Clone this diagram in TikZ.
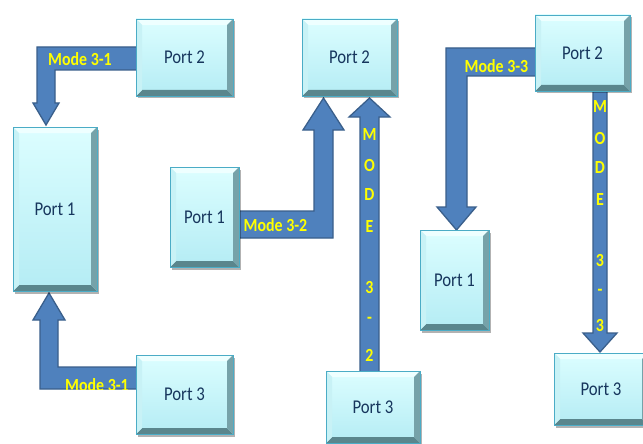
\documentclass[tikz,border=0pt]{standalone}
\usepackage{fontspec}
\setmainfont{Carlito}[FakeStretch=0.86]
\usetikzlibrary{shadows,calc}
\definecolor{arrfill}{HTML}{4F81BD}
\definecolor{arrline}{HTML}{3A5F8B}
\definecolor{boxline}{HTML}{4BACC6}
\definecolor{facetop}{HTML}{DCFEFF}
\definecolor{facebot}{HTML}{B4ECF4}
\definecolor{bevtop}{HTML}{EEFFFF}
\definecolor{bevleft}{HTML}{C8F2F6}
\definecolor{bevright}{HTML}{76A2A9}
\definecolor{bevbot}{HTML}{5A868D}
\definecolor{porttext}{HTML}{17365D}
\definecolor{modeyellow}{HTML}{FFFF00}
\tikzset{
  portbox/.style={draw=boxline, line width=0.8pt, top color=facetop, bottom color=facebot,
    text=porttext, font=\fontsize{19.5}{21}\selectfont, inner sep=0pt,
    drop shadow={shadow xshift=1.5pt, shadow yshift=-2.5pt, opacity=0.3, fill=black},
    path picture={
      \fill[bevtop] let \p1=(path picture bounding box.north west), \p2=(path picture bounding box.south east) in
        (\x1,\y1) -- (\x2,\y1) -- (\x2-6pt,\y1-6pt) -- (\x1+6pt,\y1-6pt) -- cycle;
      \fill[bevbot] let \p1=(path picture bounding box.north west), \p2=(path picture bounding box.south east) in
        (\x1,\y2) -- (\x2,\y2) -- (\x2-6pt,\y2+6pt) -- (\x1+6pt,\y2+6pt) -- cycle;
      \fill[bevleft] let \p1=(path picture bounding box.north west), \p2=(path picture bounding box.south east) in
        (\x1,\y1) -- (\x1+6pt,\y1-6pt) -- (\x1+6pt,\y2+6pt) -- (\x1,\y2) -- cycle;
      \fill[bevright] let \p1=(path picture bounding box.north west), \p2=(path picture bounding box.south east) in
        (\x2,\y1) -- (\x2-6pt,\y1-6pt) -- (\x2-6pt,\y2+6pt) -- (\x2,\y2) -- cycle;
    }},
  fatarrow/.style={fill=arrfill, draw=arrline, line width=1.3pt, line join=miter},
  modelabel/.style={text=modeyellow, font=\bfseries\fontsize{18.5}{20}\selectfont, inner sep=0pt},
}
\begin{document}
\begin{tikzpicture}[x=1pt, y=-1pt]
\useasboundingbox (0,0) rectangle (643,444);
\clip (0,0) rectangle (643,444);
\fill[white] (0,0) rectangle (643,444);

% ---- arrows (drawn beneath boxes)
% group 1 top
\draw[fatarrow] (138,47) -- (37,47) -- (37,103) -- (33,103) -- (46,125) -- (59,103) -- (55,103) -- (55,70) -- (138,70) -- cycle;
% group 1 bottom
\draw[fatarrow] (138,389) -- (40,389) -- (40,320) -- (33,320) -- (49,293) -- (65,320) -- (58,320) -- (58,367) -- (138,367) -- cycle;
% group 2 Mode 3-2
\draw[fatarrow] (237,211) -- (314,211) -- (314,130) -- (303,130) -- (323.5,98) -- (344,130) -- (333,130) -- (333,238) -- (237,238) -- cycle;
% group 2 MODE 3-2 vertical
\draw[fatarrow] (360,373) -- (360,117) -- (349,117) -- (369.5,98) -- (390,117) -- (379,117) -- (379,373) -- cycle;
% group 3 Mode 3-3
\draw[fatarrow] (537,48) -- (446,48) -- (446,207) -- (437,207) -- (456.5,230) -- (476,207) -- (467,207) -- (467,76) -- (537,76) -- cycle;
% group 3 MODE 3-3 vertical
\draw[fatarrow] (593,89) -- (593,333) -- (583,333) -- (600,352) -- (617,333) -- (607,333) -- (607,89) -- cycle;

% ---- boxes
\node[portbox, minimum width=97pt, minimum height=77pt] (g1p2) at (184.5,57.5) {Port 2};
\node[portbox, minimum width=84pt, minimum height=164pt] (g1p1) at (55,209) {Port 1};
\node[portbox, minimum width=97pt, minimum height=79pt] (g1p3) at (184.5,394.5) {Port 3};
\node[portbox, minimum width=95pt, minimum height=77pt] (g2p2) at (349.5,57.5) {Port 2};
\node[portbox, minimum width=69pt, minimum height=100pt] (g2p1) at (204.5,217) {Port 1};
\node[portbox, minimum width=94pt, minimum height=72pt] (g2p3) at (373,407) {Port 3};
\node[portbox, minimum width=95pt, minimum height=76pt] (g3p2) at (582.5,53) {Port 2};
\node[portbox, minimum width=69pt, minimum height=100pt] (g3p1) at (454.5,280) {Port 1};
\node[portbox, minimum width=94pt, minimum height=72pt] (g3p3) at (601,389) {Port 3};

% ---- labels
\node[modelabel] (l1) at (80,59) {Mode 3-1};
\begin{scope}
  \clip (40,367) rectangle (136,389);
  \node[modelabel] (l2) at (97,385) {Mode 3-1};
\end{scope}
\node[modelabel] (l3) at (275.5,225) {Mode 3-2};
\node[modelabel] (l4) at (496.5,66) {Mode 3-3};

\foreach \ch/\yy [count=\i] in {M/135, O/165, D/195, E/227, 3/287, -/320, 2/355}
  \node[modelabel] (va\i) at (369.5,\yy) {\ch};
\foreach \ch/\yy [count=\i] in {M/107, O/138, D/168, E/200, 3/260, -/292, 3/325}
  \node[modelabel] (vb\i) at (600,\yy) {\ch};
\end{tikzpicture}
\end{document}
